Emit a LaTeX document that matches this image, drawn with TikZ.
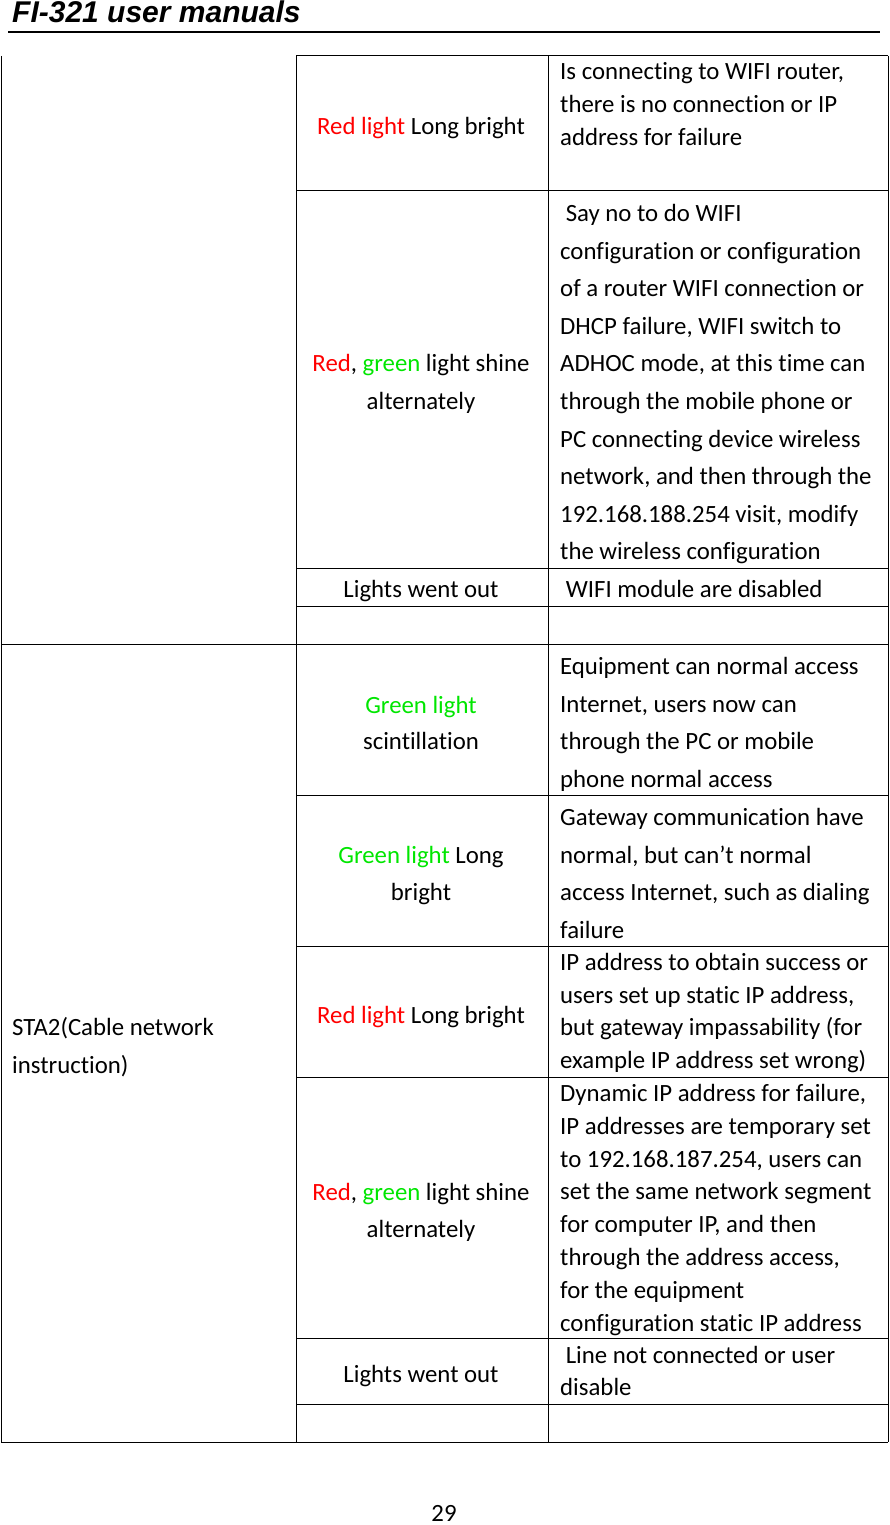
\documentclass[tikz,border=0pt]{standalone}
\usepackage{fontspec}
\setmainfont[Ligatures={NoCommon}]{Carlito}
\newfontfamily\hdfont{Liberation Sans}
\definecolor{rd}{RGB}{255,0,0}
\definecolor{gr}{RGB}{0,230,0}
\newcommand{\R}[1]{\textcolor{rd}{#1}}
\newcommand{\G}[1]{\textcolor{gr}{#1}}
\tikzset{txt/.style={inner sep=0pt,font=\fontsize{24.8}{28}\selectfont},
 grid/.style={line width=1pt,black}}
\newcommand{\Lines}[6]{%
 \foreach \t [count=\i] in {#6}{%
  \node[txt,anchor=base #5] (#1\i) at (#2,{#3+7.5+(\i-1)*#4}) {\t};}}
\begin{document}
\begin{tikzpicture}[x=1pt,y=-1pt]
\useasboundingbox (0,0) rectangle (889,1525);
\node[inner sep=0pt,anchor=base west,font=\hdfont\bfseries\itshape\fontsize{30}{32}\selectfont] (hd) at (12,23) {FI-321 user manuals};
\draw[line width=1.5pt] (8,32) -- (880,32);
\draw[grid] (296,56) -- (888,56);
\foreach \y in {191,568,606} \draw[grid] (296,\y) -- (888,\y);
\draw[grid] (1,644) -- (888,644);
\foreach \y in {795,946,1077,1338,1404} \draw[grid] (296,\y) -- (888,\y);
\draw[grid] (1,1442) -- (888,1442);
\draw[grid] (1,56) -- (1,1442);
\draw[grid] (296,56) -- (296,1442);
\draw[grid] (548,56) -- (548,1442);
\draw[grid] (888,56) -- (888,1442);
\Lines{a}{421}{127}{37}{}{{\R{Red light} Long bright}}
\Lines{b}{560}{72}{33}{west}{{Is connecting to WIFI router,},{there is no connection or IP},{address for failure}}
\Lines{c}{421}{364}{38}{}{{\R{Red}, \G{green} light shine},{alternately}}
\Lines{d}{560}{214}{37.6}{west}{{\ Say no to do WIFI},{configuration or configuration},{of a router WIFI connection or},{DHCP failure, WIFI switch to},{ADHOC mode, at this time can},{through the mobile phone or},{PC connecting device wireless},{network, and then through the},{192.168.188.254 visit, modify},{the wireless configuration}}
\Lines{e}{421}{590}{0}{}{{Lights went out}}
\Lines{f}{560}{590}{0}{west}{{\ WIFI module are disabled}}
\Lines{g}{12}{1028}{38}{west}{{STA2(Cable network},{instruction)}}
\Lines{h}{421}{706}{36}{}{{\G{Green light}},{scintillation}}
\Lines{i}{560}{667}{37.7}{west}{{Equipment can normal access},{Internet, users now can},{through the PC or mobile},{phone normal access}}
\Lines{j}{421}{856}{37}{}{{\G{Green light} Long},{bright}}
\Lines{k}{560}{818}{37.7}{west}{{Gateway communication have},{normal, but can{\char"27}t normal},{access Internet, such as dialing},{failure}}
\Lines{l}{421}{1016}{0}{}{{\R{Red light} Long bright}}
\Lines{m}{560}{963}{32.7}{west}{{IP address to obtain success or},{users set up static IP address,},{but gateway impassability (for},{example IP address set wrong)}}
\Lines{n}{421}{1193}{37}{}{{\R{Red}, \G{green} light shine},{alternately}}
\Lines{o}{560}{1094}{32.8}{west}{{Dynamic IP address for failure,},{IP addresses are temporary set},{to 192.168.187.254, users can},{set the same network segment},{for computer IP, and then},{through the address access,},{for the equipment},{configuration static IP address}}
\Lines{p}{421}{1375}{0}{}{{Lights went out}}
\Lines{q}{560}{1356}{32}{west}{{\ Line not connected or user},{disable}}
\node[txt,anchor=base] (pg) at (444,1521) {29};
\end{tikzpicture}
\end{document}
